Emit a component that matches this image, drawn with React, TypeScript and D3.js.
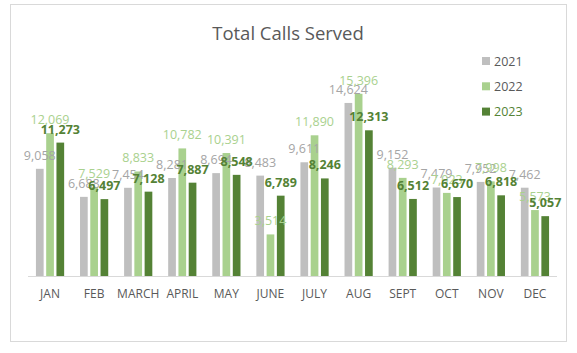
import React from "react";
import * as d3 from "d3";

const months = ["JAN", "FEB", "MARCH", "APRIL", "MAY", "JUNE", "JULY", "AUG", "SEPT", "OCT", "NOV", "DEC"];
const seriesNames = ["2021", "2022", "2023"];
const values2021 = [9058, 6688, 7454, 8281, 8694, 8483, 9611, 14624, 9152, 7479, 7952, 7462];
const values2022 = [12069, 7529, 8833, 10782, 10391, 3514, 11890, 15396, 8293, 7023, 7998, 5573];
const values2023 = [11273, 6497, 7128, 7887, 8548, 6789, 8246, 12313, 6512, 6670, 6818, 5057];
const seriesValues = [values2021, values2022, values2023];
const barColors = ["#bfbfbf", "#a9d18e", "#548235"];
const labelColors = ["#a5a5a5", "#a9d18e", "#548235"];
const legendTextColors = ["#595959", "#595959", "#548235"];
const title = "Total Calls Served";

const W = 577;
const H = 353;
const font = "'Open Sans', 'Noto Sans', sans-serif";

export default function App() {
  const x0 = d3.scaleBand<string>().domain(months).range([28, 557]).paddingInner(0.36).paddingOuter(0.18);
  const x1 = d3.scaleBand<string>().domain(seriesNames).range([0, x0.bandwidth()]).paddingInner(0.25);
  const y = d3.scaleLinear().domain([0, 18000]).range([276, 63]);
  const fmt = d3.format(",");

  return (
    <svg width={W} height={H} style={{ position: "absolute", left: 0, top: 0 }} fontFamily={font}>
      <rect x={0} y={0} width={W} height={H} fill="#ffffff" />
      <rect x={10.5} y={4.5} width={556} height={337} fill="#ffffff" stroke="#d9d9d9" strokeWidth={1} />
      <text x={288} y={40} textAnchor="middle" fontSize={18.5} fill="#595959">{title}</text>
      {seriesNames.map((s, si) => (
        <g key={s}>
          {months.map((m, mi) => {
            const v = seriesValues[si][mi];
            return (
              <rect key={m} x={(x0(m) ?? 0) + (x1(s) ?? 0)} y={y(v)} width={x1.bandwidth()} height={y(0) - y(v)} fill={barColors[si]} />
            );
          })}
        </g>
      ))}
      <line x1={28} x2={557} y1={y(0) + 0.5} y2={y(0) + 0.5} stroke="#d9d9d9" strokeWidth={1} />
      {months.map((m) => (
        <text key={m} x={(x0(m) ?? 0) + x0.bandwidth() / 2} y={298} textAnchor="middle" fontSize={12} fill="#595959">{m}</text>
      ))}
      {seriesNames.map((s, si) => (
        <g key={"lbl" + s}>
          {months.map((m, mi) => {
            const v = seriesValues[si][mi];
            return (
              <text key={m} x={(x0(m) ?? 0) + (x1(s) ?? 0) + x1.bandwidth() / 2} y={y(v) - 9} textAnchor="middle" fontSize={12.5}
                fontWeight={si === 2 ? "bold" : "normal"} fill={labelColors[si]}>{fmt(v)}</text>
            );
          })}
        </g>
      ))}
      {seriesNames.map((s, si) => (
        <g key={"leg" + s} transform={`translate(482, ${61 + si * 25.3})`}>
          <rect x={0} y={-4} width={8} height={8} fill={barColors[si]} />
          <text x={12} y={4.5} fontSize={12.5} fill={legendTextColors[si]}>{s}</text>
        </g>
      ))}
    </svg>
  );
}
